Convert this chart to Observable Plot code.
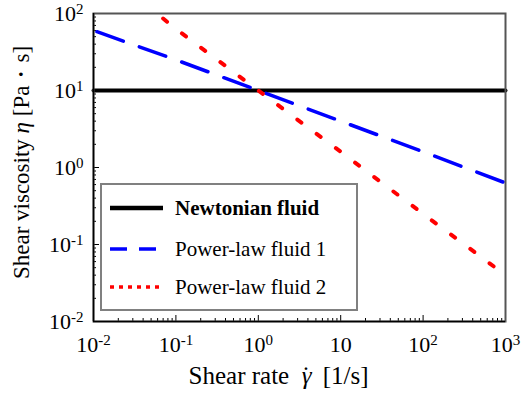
<!DOCTYPE html>
<html>
<head>
<meta charset="utf-8">
<script src="https://cdn.jsdelivr.net/npm/d3@7"></script>
<script src="https://cdn.jsdelivr.net/npm/@observablehq/plot@0.6"></script>
<style>
  html, body { margin: 0; padding: 0; background: white; }
  #wrap { position: relative; width: 522px; height: 398px; font-family: "Liberation Serif", "DejaVu Serif", serif; }
  #legend { position: absolute; left: 100px; top: 183px; width: 254px; height: 124px; border: 2.5px solid #808080; background: white; box-sizing: content-box; }
  .row { position: absolute; left: 0; height: 30px; display: flex; align-items: center; }
  .row svg { margin-left: 8px; }
  .row span { margin-left: 11px; font-size: 21px; color: black; white-space: nowrap; }
</style>
</head>
<body>
<div id="wrap"></div>
<script>
// ---- data ----
const seriesNames = ["Newtonian fluid", "Power-law fluid 1", "Power-law fluid 2"];
const newtonianX = [0.01, 1000];
const newtonianY = [10, 10];
const fluid1X = [0.011, 0.1, 1, 10, 100, 1000];
const fluid1Y = [58, 25, 10, 4, 1.6, 0.63];
const fluid2X = [0.07, 0.1, 1, 10, 100, 1000];
const fluid2Y = [86, 63, 10, 1.6, 0.25, 0.04];

const xMajor = [0.01, 0.1, 1, 10, 100, 1000];
const xTickLabels = ["10^-2", "10^-1", "10^0", "10", "10^2", "10^3"];
const yMajor = [0.01, 0.1, 1, 10, 100];
const yTickLabels = ["10^-2", "10^-1", "10^0", "10^1", "10^2"];
const minorMultipliers = [2, 3, 4, 5, 6, 7, 8, 9];

const xTitle = "Shear rate γ̇ [1/s]";
const yTitle = "Shear viscosity η [Pa・s]";

// ---- build ----
const xMinor = xMajor.slice(0, -1).flatMap(d => minorMultipliers.map(m => d * m));
const yMinor = yMajor.slice(0, -1).flatMap(d => minorMultipliers.map(m => d * m));
const xLab = new Map(xMajor.map((d, i) => [d, xTickLabels[i]]));
const yLab = new Map(yMajor.map((d, i) => [d, yTickLabels[i]]));

const toRows = (xs, ys, s) => xs.map((x, i) => ({x, y: ys[i], s}));
const newt = toRows(newtonianX, newtonianY, seriesNames[0]);
const f1 = toRows(fluid1X, fluid1Y, seriesNames[1]);
const f2 = toRows(fluid2X, fluid2Y, seriesNames[2]);

const plot = Plot.plot({
  width: 522,
  height: 398,
  marginLeft: 93,
  marginRight: 17,
  marginTop: 13,
  marginBottom: 77,
  style: {fontFamily: "Liberation Serif", fontSize: "22px", color: "black", background: "white", overflow: "visible"},
  x: {type: "log", domain: [0.01, 1000]},
  y: {type: "log", domain: [0.01, 100]},
  marks: [
    Plot.axisX(xMinor, {tickSize: -3, tickFormat: () => "", label: null, stroke: "black"}),
    Plot.axisX(xMajor, {tickSize: -6, tickFormat: () => "", label: null, stroke: "black"}),
    Plot.axisX(xMajor, {tickSize: 0, tickPadding: 15, tickFormat: d => xLab.get(d), label: null, fontSize: 22}),
    Plot.axisY(yMinor, {tickSize: -3, tickFormat: () => "", label: null, stroke: "black"}),
    Plot.axisY(yMajor, {tickSize: -6, tickFormat: () => "", label: null, stroke: "black"}),
    Plot.axisY(yMajor, {tickSize: 0, tickPadding: 10, tickFormat: d => yLab.get(d), label: null, fontSize: 22}),
    Plot.line(newt, {x: "x", y: "y", stroke: "black", strokeWidth: 4}),
    Plot.line(f1, {x: "x", y: "y", stroke: "#0000ff", strokeWidth: 3.5, strokeDasharray: "28,17", clip: true}),
    Plot.line(f2, {x: "x", y: "y", stroke: "#ff0000", strokeWidth: 4, strokeDasharray: "5,19", clip: true}),
    Plot.frame({stroke: "#555", strokeWidth: 2}),
    Plot.ruleX([0.01], {stroke: "black", strokeWidth: 1.5}),
    Plot.ruleY([0.01], {stroke: "black", strokeWidth: 1.5}),
    Plot.text([xTitle], {frameAnchor: "bottom", dx: -21, dy: 62, text: d => d, fontSize: 25, textAnchor: "middle"}),
    Plot.text([yTitle], {frameAnchor: "left", dx: -72, dy: -5, rotate: -90, text: d => d, fontSize: 23, textAnchor: "middle"})
  ]
});

const svgSel = d3.select(plot);
svgSel.selectAll("text").each(function() {
  const t = this.textContent;
  const m = /^10\^(.+)$/.exec(t);
  const el = d3.select(this);
  if (m) {
    el.text(null);
    el.append("tspan").text("10");
    el.append("tspan").attr("dy", "-7").attr("font-size", "15px").text(m[1]);
  } else if (t === xTitle) {
    el.text(null);
    el.append("tspan").text("Shear rate  ");
    el.append("tspan").attr("font-style", "italic").text("γ");
    el.append("tspan").attr("dx", "-0.39em").text("˙");
    el.append("tspan").text("  [1/s]");
  } else if (t === yTitle) {
    el.text(null);
    el.append("tspan").text("Shear viscosity ");
    el.append("tspan").attr("font-style", "italic").text("η");
    el.append("tspan").text(" [Pa・s]");
  }
});

const wrap = document.getElementById("wrap");
wrap.appendChild(plot);

// legend overlay
const legend = document.createElement("div");
legend.id = "legend";
const styles = [
  {stroke: "black", width: 4.5, dash: null, bold: true},
  {stroke: "#0000ff", width: 3.5, dash: "17,12", bold: false},
  {stroke: "#ff0000", width: 3.5, dash: "4,5", bold: false}
];
const rowTops = [11, 52, 90];
seriesNames.forEach((name, i) => {
  const row = document.createElement("div");
  row.className = "row";
  row.style.top = (rowTops[i] - 3) + "px";
  const st = styles[i];
  row.innerHTML = `<svg width="54" height="10"><line x1="0" x2="53" y1="5" y2="5" stroke="${st.stroke}" stroke-width="${st.width}" ${st.dash ? `stroke-dasharray="${st.dash}"` : ""}/></svg><span style="font-weight:${st.bold ? "bold" : "normal"}">${name}</span>`;
  legend.appendChild(row);
});
wrap.appendChild(legend);
</script>
</body>
</html>
